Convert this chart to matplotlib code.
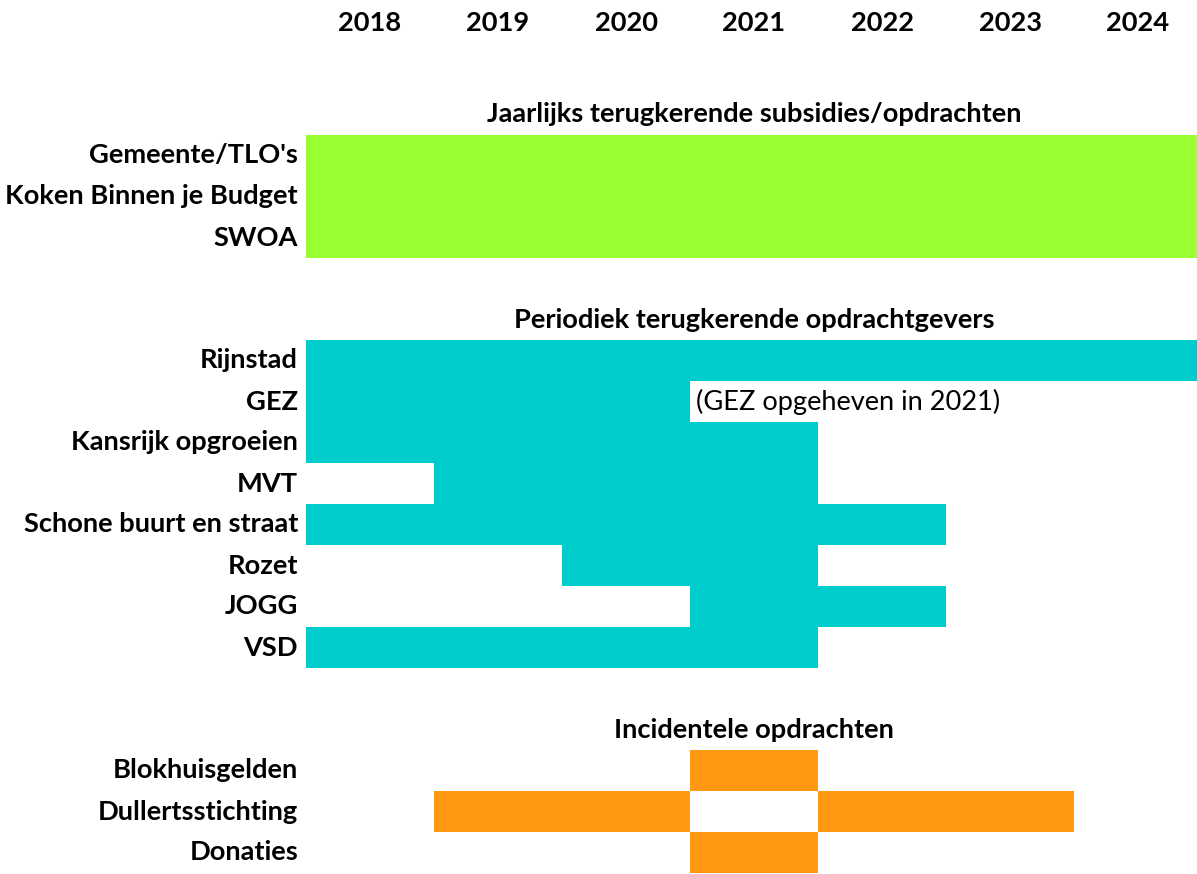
import matplotlib
matplotlib.use('agg')
import matplotlib.pyplot as plt

years = [2018, 2019, 2020, 2021, 2022, 2023, 2024]

# section headers and their row index
sections = ["Jaarlijks terugkerende subsidies/opdrachten",
            "Periodiek terugkerende opdrachtgevers",
            "Incidentele opdrachten"]
section_rows = [-1, 4, 14]

# rows: label, row index, list of (start year, end year) spans, colour group
jaarlijks_labels = ["Gemeente/TLO's", "Koken Binnen je Budget", "SWOA"]
jaarlijks_rows = [0, 1, 2]
jaarlijks_spans = [[(2018, 2025)], [(2018, 2025)], [(2018, 2025)]]

periodiek_labels = ["Rijnstad", "GEZ", "Kansrijk opgroeien", "MVT",
                    "Schone buurt en straat", "Rozet", "JOGG", "VSD"]
periodiek_rows = [5, 6, 7, 8, 9, 10, 11, 12]
periodiek_spans = [[(2018, 2025)], [(2018, 2021)], [(2018, 2022)], [(2019, 2022)],
                   [(2018, 2023)], [(2020, 2022)], [(2021, 2023)], [(2018, 2022)]]

incidenteel_labels = ["Blokhuisgelden", "Dullertsstichting", "Donaties"]
incidenteel_rows = [15, 16, 17]
incidenteel_spans = [[(2021, 2022)], [(2019, 2021), (2022, 2024)], [(2021, 2022)]]

note_text = "(GEZ opgeheven in 2021)"
note_row = 6
note_year = 2021

colors = {"jaarlijks": "#99FF33", "periodiek": "#00CCCC", "incidenteel": "#FF9914"}

FONT = "Lato"
SIZE = 19.6

fig = plt.figure(figsize=(11.97, 8.74), dpi=100)
ax = fig.add_axes([0, 0, 1, 1])
col_px = 128.0
ax.set_xlim(2018 - 306 / col_px, 2018 + (1197 - 306) / col_px)
row_px = 41.0
ax.set_ylim((874 - 135) / row_px, -135 / row_px)
ax.axis("off")

groups = [(jaarlijks_labels, jaarlijks_rows, jaarlijks_spans, colors["jaarlijks"]),
          (periodiek_labels, periodiek_rows, periodiek_spans, colors["periodiek"]),
          (incidenteel_labels, incidenteel_rows, incidenteel_spans, colors["incidenteel"])]

label_x = 2018 - 8 / col_px
for labels, rows, spans, c in groups:
    for lab, r, sp in zip(labels, rows, spans):
        ax.broken_barh([(s, e - s) for s, e in sp], (r, 1), facecolors=c, edgecolor="none")
        ax.text(label_x, r + 0.5, lab, ha="right", va="center", family=FONT,
                fontsize=SIZE, fontweight="bold")

for title, r in zip(sections, section_rows):
    ax.text(2021.5, r + 0.5, title, ha="center", va="center", family=FONT,
            fontsize=SIZE, fontweight="bold")

for y in years:
    ax.text(y + 0.5, -2.73, str(y), ha="center", va="center", family=FONT,
            fontsize=SIZE, fontweight="bold")

ax.text(note_year + 6 / col_px, note_row + 0.5, note_text, ha="left", va="center",
        family=FONT, fontsize=SIZE)

fig.savefig("out.png", dpi=100)
